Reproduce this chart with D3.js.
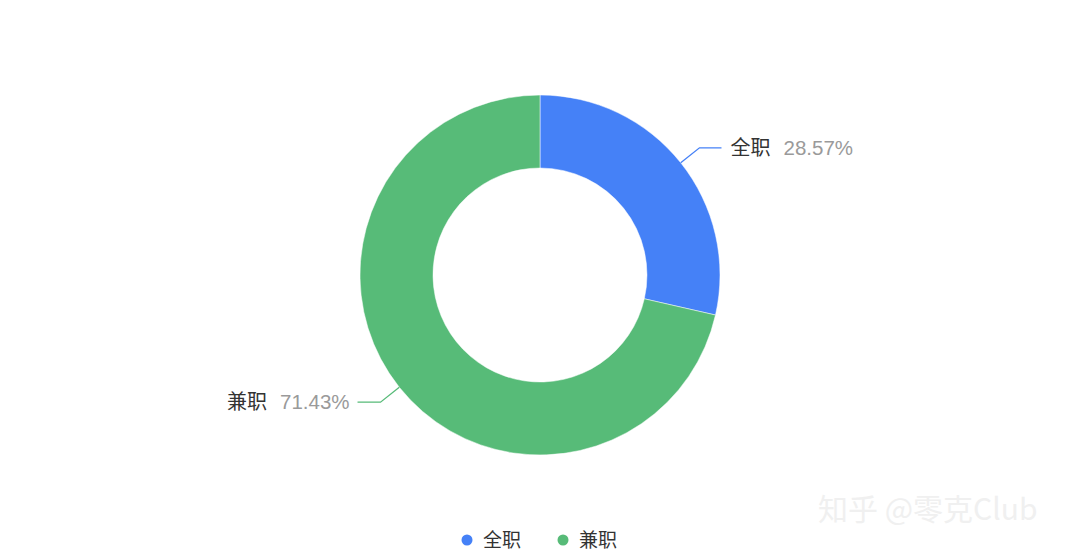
<!DOCTYPE html>
<html>
<head>
<meta charset="utf-8">
<script src="https://cdn.jsdelivr.net/npm/d3@7"></script>
<style>
  html, body { margin: 0; padding: 0; background: #fff; }
  svg { display: block; font-family: "Liberation Sans", "Noto Sans CJK SC", sans-serif; }
</style>
</head>
<body>
<svg id="chart" width="1080" height="550"></svg>
<script>
const categories = ["全职", "兼职"];
const values = [28.57, 71.43];
const percentLabels = ["28.57%", "71.43%"];
const colors = ["#4581F7", "#57BB78"];

const W = 1080, H = 550;
const cx = 540, cy = 275;
const outerR = 180, innerR = 107;

const svg = d3.select("#chart");
const g = svg.append("g").attr("transform", `translate(${cx},${cy})`);

const pie = d3.pie().sort(null).value(d => d.v);
const data = categories.map((c, i) => ({ c, v: values[i], p: percentLabels[i], color: colors[i] }));
const arcs = pie(data);

const arc = d3.arc().innerRadius(innerR).outerRadius(outerR);
g.selectAll("path.slice").data(arcs).enter().append("path")
  .attr("class", "slice")
  .attr("d", arc)
  .attr("fill", d => d.data.color)
  .attr("stroke", "#fff")
  .attr("stroke-width", 0.5);

// label lines
const edgeArc = d3.arc().innerRadius(outerR).outerRadius(outerR);
const elbowArc = d3.arc().innerRadius(204).outerRadius(204);
arcs.forEach(d => {
  const mid = (d.startAngle + d.endAngle) / 2;
  const right = mid < Math.PI;
  const p0 = edgeArc.centroid(d);
  const p1 = elbowArc.centroid(d);
  const p2 = [p1[0] + (right ? 22 : -23), p1[1]];
  g.append("polyline")
    .attr("points", [p0, p1, p2].map(p => p.join(",")).join(" "))
    .attr("fill", "none")
    .attr("stroke", d.data.color)
    .attr("stroke-width", 1.3);

  const t = g.append("text")
    .attr("x", p2[0] + (right ? 9 : -8))
    .attr("y", p2[1])
    .attr("dy", "0.36em")
    .attr("font-size", 20)
    .attr("text-anchor", right ? "start" : "end");
  t.append("tspan").attr("fill", "#333").text(d.data.c);
  t.append("tspan").attr("fill", "#9a9a9a").attr("dx", 13).attr("font-size", 20.5).text(d.data.p);
});

// legend
const legend = svg.append("g").attr("transform", `translate(0,540)`);
const legendX = [467, 563];
data.forEach((d, i) => {
  legend.append("circle").attr("cx", legendX[i]).attr("cy", 0).attr("r", 5.5).attr("fill", d.color);
  legend.append("text").attr("x", legendX[i] + 16).attr("y", 0).attr("dy", "0.36em")
    .attr("font-size", 19).attr("fill", "#333").text(d.c);
});

// faint watermark
svg.append("text").attr("x", 818).attr("y", 520)
  .attr("font-size", 30).attr("fill", "#f0f0f0")
  .attr("font-family", "Noto Sans CJK SC, sans-serif")
  .text("知乎 @零克Club");
</script>
</body>
</html>
